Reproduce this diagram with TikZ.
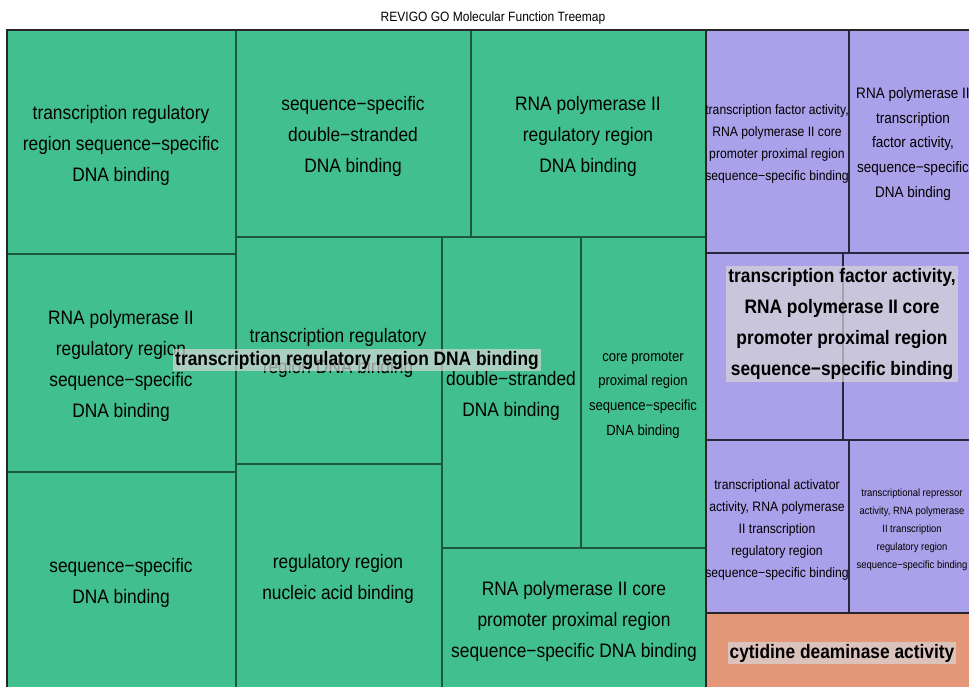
\documentclass[tikz,border=0pt]{standalone}
\usepackage{fontspec}
\setmainfont[FakeStretch=0.89]{Liberation Sans}
\definecolor{tmgreen}{RGB}{66,191,143}
\definecolor{tmpurple}{RGB}{170,161,234}
\definecolor{tmorange}{RGB}{229,151,122}
\definecolor{greenline}{RGB}{28,88,62}
\definecolor{purpleline}{RGB}{40,40,60}
\definecolor{lblbg}{RGB}{215,215,215}
\begin{document}
\begin{tikzpicture}[x=1pt,y=-1pt,
  gcell/.style={fill=tmgreen,draw=greenline,line width=1.2pt},
  pcell/.style={fill=tmpurple,draw=purpleline,line width=1.2pt},
  ocell/.style={fill=tmorange,draw=purpleline,line width=1.2pt},
  grpline/.style={draw=black!85,line width=2.6pt},
  lbig/.style={align=center,inner sep=0pt,font=\fontsize{19.5}{31}\selectfont},
  lmid/.style={align=center,inner sep=0pt,font=\fontsize{14.7}{24.7}\selectfont},
  lsmall/.style={align=center,inner sep=0pt,font=\fontsize{13.7}{22}\selectfont},
  ltiny/.style={align=center,inner sep=0pt,font=\fontsize{10.6}{18}\selectfont},
  grplbl/.style={align=center,inner xsep=2pt,inner ysep=2pt,fill=lblbg,fill opacity=0.7,text opacity=1,font=\bfseries\fontsize{19.5}{31}\selectfont}
]
\useasboundingbox (0,0) rectangle (969,687);
\fill[white] (0,0) rectangle (969,687);
\node (title) at (493,18) {\fontsize{13.5}{15}\selectfont REVIGO GO Molecular Function Treemap};
\begin{scope}
\clip (0,0) rectangle (969,687);
% green group cells
\path[gcell] (7,30) rectangle (236,254);
\path[gcell] (7,254) rectangle (236,472);
\path[gcell] (7,472) rectangle (236,700);
\path[gcell] (236,30) rectangle (471,237);
\path[gcell] (471,30) rectangle (706,237);
\path[gcell] (236,237) rectangle (442,464);
\path[gcell] (236,464) rectangle (442,700);
\path[gcell] (442,237) rectangle (581,548);
\path[gcell] (581,237) rectangle (706,548);
\path[gcell] (442,548) rectangle (706,700);
% purple group cells
\path[pcell] (706,30) rectangle (849,253);
\path[pcell] (849,30) rectangle (980,253);
\path[pcell] (706,253) rectangle (843,440);
\path[pcell] (843,253) rectangle (980,440);
\path[pcell] (706,440) rectangle (849,613);
\path[pcell] (849,440) rectangle (980,613);
% orange group
\path[ocell] (706,613) rectangle (980,700);
% group borders
\path[grpline] (7,30) rectangle (706,700);
\path[grpline] (706,30) rectangle (980,613);
\path[grpline] (706,613) rectangle (980,700);
% cell labels
\node[lbig] (c1) at (121,145) {transcription regulatory\\region sequence−specific\\DNA binding};
\node[lbig] (c2) at (353,136) {sequence−specific\\double−stranded\\DNA binding};
\node[lbig] (c3) at (588,136) {RNA polymerase II\\regulatory region\\DNA binding};
\node[lbig] (c4) at (121,366) {RNA polymerase II\\regulatory region\\sequence−specific\\DNA binding};
\node[lbig] (c5) at (338,353) {transcription regulatory\\region DNA binding};
\node[lbig] (c6) at (511,396) {double−stranded\\DNA binding};
\node[lmid] (c7) at (643,395) {core promoter\\proximal region\\sequence−specific\\DNA binding};
\node[lbig] (c8) at (121,583) {sequence−specific\\DNA binding};
\node[lbig] (c9) at (338,579) {regulatory region\\nucleic acid binding};
\node[lbig] (c10) at (574,621) {RNA polymerase II core\\promoter proximal region\\sequence−specific DNA binding};
\node[lsmall] (p1) at (777,144) {transcription factor activity,\\RNA polymerase II core\\promoter proximal region\\sequence−specific binding};
\node[lmid,font=\fontsize{15.2}{24.7}\selectfont] (p2) at (913,144) {RNA polymerase II\\transcription\\factor activity,\\sequence−specific\\DNA binding};
\node[lsmall] (p3) at (777,530) {transcriptional activator\\activity, RNA polymerase\\II transcription\\regulatory region\\sequence−specific binding};
\node[ltiny] (p4) at (912,530) {transcriptional repressor\\activity, RNA polymerase\\II transcription\\regulatory region\\sequence−specific binding};
% group labels
\node[grplbl] (g1) at (357,360) {transcription regulatory region DNA binding};
\node[grplbl] (g2) at (842,324) {transcription factor activity,\\RNA polymerase II core\\promoter proximal region\\sequence−specific binding};
\node[grplbl] (g3) at (842,653) {cytidine deaminase activity};
\end{scope}
\end{tikzpicture}
\end{document}
